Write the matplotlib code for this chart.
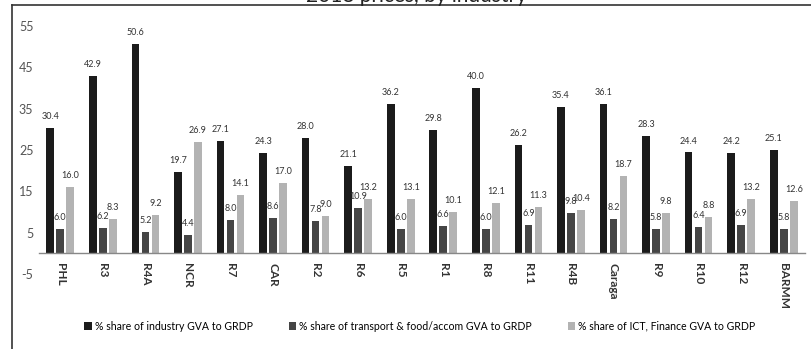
import matplotlib
matplotlib.use("Agg")
import matplotlib.pyplot as plt
import numpy as np
from matplotlib.lines import Line2D

plt.rcParams['font.family'] = ['Lato', 'DejaVu Sans']

regions = ["PHL", "R3", "R4A", "NCR", "R7", "CAR", "R2", "R6", "R5", "R1",
           "R8", "R11", "R4B", "Caraga", "R9", "R10", "R12", "BARMM"]
industry = [30.4, 42.9, 50.6, 19.7, 27.1, 24.3, 28.0, 21.1, 36.2, 29.8,
            40.0, 26.2, 35.4, 36.1, 28.3, 24.4, 24.2, 25.1]
transport = [6.0, 6.2, 5.2, 4.4, 8.0, 8.6, 7.8, 10.9, 6.0, 6.6,
             6.0, 6.9, 9.8, 8.2, 5.8, 6.4, 6.9, 5.8]
ict_fin = [16.0, 8.3, 9.2, 26.9, 14.1, 17.0, 9.0, 13.2, 13.1, 10.1,
           12.1, 11.3, 10.4, 18.7, 9.8, 8.8, 13.2, 12.6]
series_names = ["% share of industry GVA to GRDP",
                "% share of transport & food/accom GVA to GRDP",
                "% share of ICT, Finance GVA to GRDP"]
yticks = [-5, 5, 15, 25, 35, 45, 55]

W, H = 812, 349
fig = plt.figure(figsize=(W / 100, H / 100), dpi=100)
ax = fig.add_axes([39 / W, 75 / H, 766 / W, 248 / H])

# category axis sits on the zero line
for s in ["left", "right", "top"]:
    ax.spines[s].set_visible(False)
ax.spines["bottom"].set_position(("data", 0))
ax.spines["bottom"].set_color("#888888")
ax.spines["bottom"].set_linewidth(1.0)
ax.set_facecolor("none")

colors = ["#1b1b1b", "#454545", "#b3b3b3"]
offsets = [-0.235, 0.0, 0.235]
width = 0.18
x = np.arange(len(regions))
for vals, off, col, name in zip([industry, transport, ict_fin], offsets, colors, series_names):
    ax.bar(x + off, vals, width=width, color=col, label=name, zorder=2)
    for xi, v in zip(x + off, vals):
        ax.annotate(f"{v:.1f}", (xi, v), xytext=(0, 5), textcoords="offset points",
                    ha="center", va="bottom", fontsize=6.5, color="#333333")

ax.set_xlim(-0.5, len(regions) - 0.5)
ax.set_ylim(-5, 55)
ax.set_yticks(yticks)
ax.set_yticklabels([str(t) for t in yticks], fontsize=9, color="#555555")
ax.tick_params(axis="y", length=0, pad=4)

ax.set_xticks(x)
ax.set_xticklabels(regions, rotation=-90, fontsize=8.5, fontweight="bold",
                   color="#333333", va="top", ha="center")
ax.tick_params(axis="x", length=0, pad=7)

fig.legend(loc="center", bbox_to_anchor=(420 / W, 1 - 326 / H), ncol=3, frameon=False,
           fontsize=7.6, handlelength=0.7, handleheight=0.7, handletextpad=0.3,
           columnspacing=3.4)

# surrounding frame and the partially visible heading above it
fig.add_artist(Line2D([12 / W, 1.0], [1 - 5 / H, 1 - 5 / H], color="#333333", lw=1.2,
                      transform=fig.transFigure))
fig.add_artist(Line2D([12 / W, 12 / W], [0.0, 1 - 5 / H], color="#333333", lw=1.2,
                      transform=fig.transFigure))
fig.text(416 / W, 1 - 2.5 / H, "2018 prices, by industry", ha="center", va="baseline",
         fontsize=15, color="#222222")

fig.savefig("out.png", dpi=100)
